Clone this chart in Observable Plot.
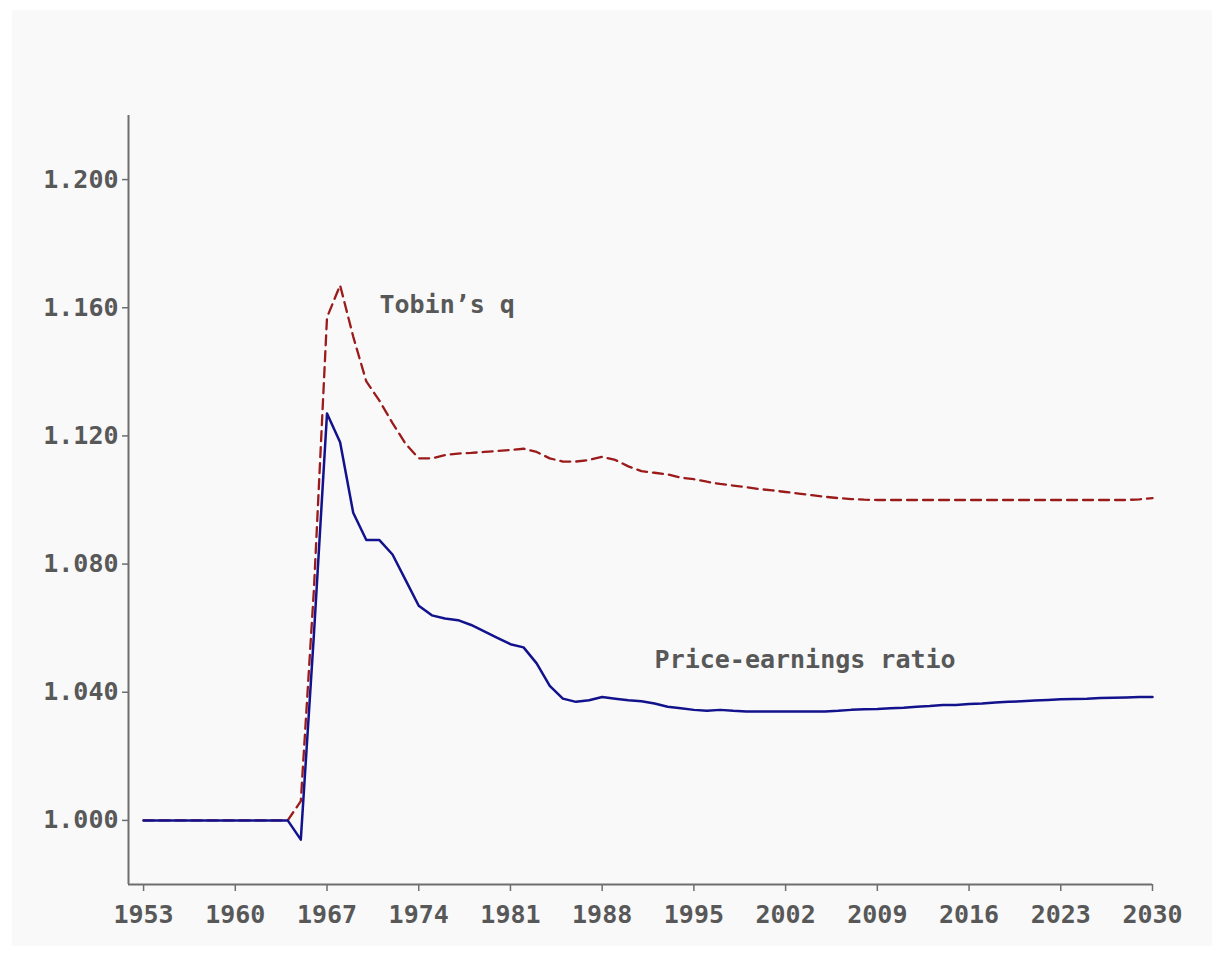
<!DOCTYPE html>
<html>
<head>
<meta charset="utf-8">
<script src="https://cdn.jsdelivr.net/npm/d3@7"></script>
<script src="https://cdn.jsdelivr.net/npm/@observablehq/plot@0.6"></script>
<style>
  html, body { margin: 0; padding: 0; background: #ffffff; }
  #bg { position: absolute; left: 12px; top: 10px; width: 1200px; height: 936px; background: #f9f9fa; }
  #chart { position: absolute; left: 0; top: 0; width: 1222px; height: 954px; }
  #chart svg { background: transparent; }
</style>
</head>
<body>
<div id="bg"></div>
<div id="chart"></div>
<script>
const years = [1953,1954,1955,1956,1957,1958,1959,1960,1961,1962,1963,1964,1965,1966,1967,1968,1969,1970,
  1971,1972,1973,1974,1975,1976,1977,1978,1979,1980,1981,1982,1983,1984,1985,1986,1987,1988,1989,1990,
  1991,1992,1993,1994,1995,1996,1997,1998,1999,2000,2001,2002,2003,2004,2005,2006,2007,2008,2009,2010,
  2011,2012,2013,2014,2015,2016,2017,2018,2019,2020,2021,2022,2023,2024,2025,2026,2027,2028,2029,2030];

const priceEarnings = [1.000,1.000,1.000,1.000,1.000,1.000,1.000,1.000,1.000,1.000,1.000,1.000,
  0.994,1.058,1.127,1.118,1.096,1.0875,1.0875,1.083,1.075,1.067,1.064,1.063,1.0625,1.061,1.059,1.057,
  1.055,1.054,1.049,1.042,1.038,1.037,1.0375,1.0385,1.038,1.0375,1.0372,1.0365,1.0355,1.035,1.0345,
  1.0342,1.0345,1.0342,1.034,1.034,1.034,1.034,1.034,1.034,1.034,1.0342,1.0345,1.0347,1.0348,1.035,
  1.0352,1.0355,1.0357,1.036,1.036,1.0363,1.0365,1.0368,1.037,1.0372,1.0374,1.0376,1.0378,1.0379,
  1.038,1.0382,1.0383,1.0384,1.0385,1.0385];

const tobinsQ = [1.000,1.000,1.000,1.000,1.000,1.000,1.000,1.000,1.000,1.000,1.000,1.000,
  1.006,1.072,1.157,1.167,1.151,1.137,1.131,1.124,1.1175,1.113,1.113,1.114,1.1145,1.1147,1.115,1.1153,
  1.1156,1.116,1.115,1.113,1.112,1.112,1.1125,1.1135,1.1125,1.1105,1.109,1.1085,1.108,1.107,1.1065,
  1.1057,1.105,1.1045,1.104,1.1034,1.103,1.1025,1.102,1.1015,1.101,1.1006,1.1003,1.1001,1.1,1.1,
  1.1,1.1,1.1,1.1,1.1,1.1,1.1,1.1,1.1,1.1,1.1,1.1,1.1,1.1,1.1,1.1,1.1,1.1,1.1002,1.1006];

const xTicks = [1953,1960,1967,1974,1981,1988,1995,2002,2009,2016,2023,2030];
const yTicks = [1.000,1.040,1.080,1.120,1.160,1.200];

const labels = [
  {year: 1971, value: 1.161, text: "Tobin\u2019s q"},
  {year: 1992, value: 1.050, text: "Price-earnings ratio"}
];

const pe = years.map((y, i) => ({year: y, value: priceEarnings[i]}));
const tq = years.map((y, i) => ({year: y, value: tobinsQ[i]}));

const FONT = "'DejaVu Sans Mono', monospace";
const TXT = "#585858";
const AX = "#6e6e6e";
const xMin = 1951.85, yMin = 0.98;

const chart = Plot.plot({
  width: 1222,
  height: 954,
  marginLeft: 128,
  marginRight: 70,
  marginTop: 115,
  marginBottom: 70,
  style: {background: "transparent", fontFamily: FONT},
  x: {domain: [xMin, 2030]},
  y: {domain: [yMin, 1.22]},
  marks: [
    Plot.axisY({ticks: yTicks, tickFormat: d3.format(".3f"), tickSize: 6, tickPadding: 4,
      stroke: AX, strokeWidth: 1.5, fill: TXT, fontSize: 25, fontWeight: "bold", label: null}),
    Plot.axisX({ticks: xTicks, tickFormat: d => String(d), tickSize: 7, tickPadding: 14,
      stroke: AX, strokeWidth: 1.5, fill: TXT, fontSize: 25, fontWeight: "bold", label: null}),
    Plot.ruleX([xMin], {stroke: AX, strokeWidth: 2}),
    Plot.ruleY([yMin], {stroke: AX, strokeWidth: 2}),
    Plot.line(tq, {x: "year", y: "value", stroke: "#9b1a1a", strokeWidth: 2.3, strokeDasharray: "10,6"}),
    Plot.line(pe, {x: "year", y: "value", stroke: "#12128c", strokeWidth: 2.5}),
    Plot.text(labels, {x: "year", y: "value", text: "text", textAnchor: "start", fill: TXT,
      fontSize: 25, fontWeight: "bold", fontFamily: FONT})
  ]
});
document.getElementById("chart").appendChild(chart);
</script>
</body>
</html>
